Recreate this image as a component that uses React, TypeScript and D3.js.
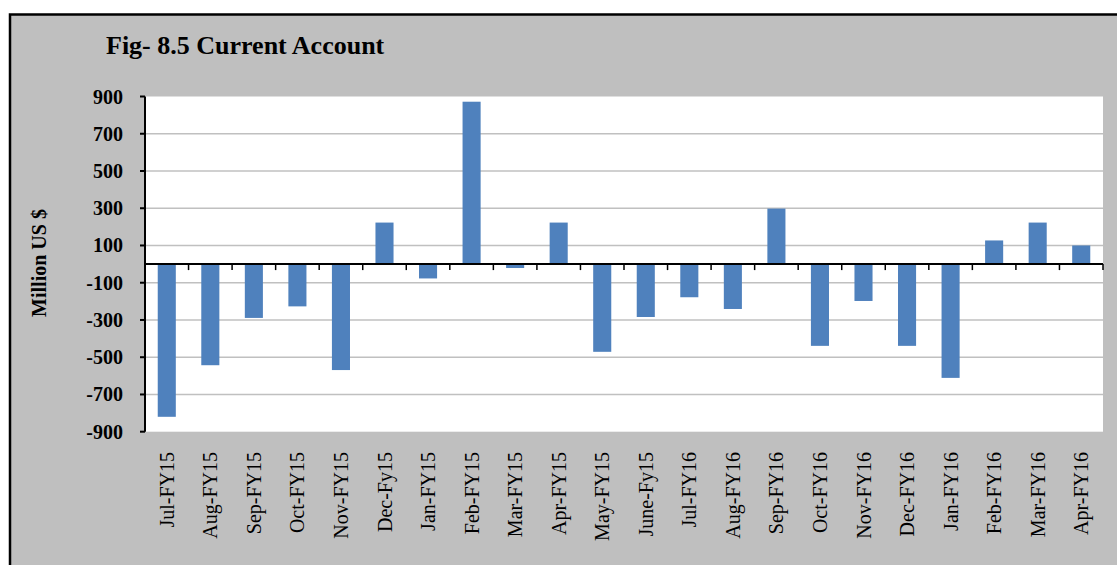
import React from "react";
import * as d3 from "d3";

const months = [
  "Jul-FY15", "Aug-FY15", "Sep-FY15", "Oct-FY15", "Nov-FY15", "Dec-Fy15",
  "Jan-FY15", "Feb-FY15", "Mar-FY15", "Apr-FY15", "May-FY15", "June-Fy15",
  "Jul-FY16", "Aug-FY16", "Sep-FY16", "Oct-FY16", "Nov-FY16", "Dec-FY16",
  "Jan-FY16", "Feb-FY16", "Mar-FY16", "Apr-FY16",
];
const currentAccount = [
  -820, -543, -289, -227, -569, 223,
  -77, 872, -21, 223, -471, -284,
  -178, -241, 298, -439, -198, -439,
  -611, 127, 223, 100,
];
const yTicks = [900, 700, 500, 300, 100, -100, -300, -500, -700, -900];

const W = 1117;
const H = 565;
const plot = { left: 145, right: 1103, top: 96.5, bottom: 431.7 };
const serif = "'Liberation Serif', 'Times New Roman', serif";

export default function App() {
  const x = d3.scaleBand<string>()
    .domain(months)
    .range([plot.left, plot.right])
    .paddingInner(0.585)
    .paddingOuter(0.2925);
  const step = x.step();

  const y = d3.scaleLinear().domain([-900, 900]).range([plot.bottom, plot.top]);
  const y0 = y(0);

  return (
    <svg
      width={W}
      height={H}
      style={{ position: "absolute", left: 0, top: 0, display: "block" }}
      fontFamily={serif}
    >
      <rect x={0} y={0} width={W} height={H} fill="white" />
      {/* chart frame, runs off the right and bottom of the picture */}
      <rect x={10} y={14.5} width={W + 20} height={H + 20} fill="#bfbfbf" stroke="#000" strokeWidth={2.5} />

      <text x={106} y={54} fontSize="26px" fontWeight="bold" fill="#000">
        Fig- 8.5 Current Account
      </text>

      <rect
        x={plot.left}
        y={plot.top}
        width={plot.right - plot.left}
        height={plot.bottom - plot.top}
        fill="white"
      />

      {/* gridlines */}
      {yTicks
        .filter(t => t !== 900 && t !== -900)
        .map(t => (
          <line
            key={`g${t}`}
            x1={plot.left}
            x2={plot.right}
            y1={y(t)}
            y2={y(t)}
            stroke="#c0c0c0"
            strokeWidth={1.5}
          />
        ))}

      {/* bars */}
      {months.map((m, i) => {
        const v = currentAccount[i];
        return (
          <rect
            key={m}
            x={x(m)}
            width={x.bandwidth()}
            y={Math.min(y(v), y0)}
            height={Math.abs(y(v) - y0)}
            fill="#4f81bd"
          />
        );
      })}

      {/* y axis */}
      <line x1={plot.left} x2={plot.left} y1={y(900)} y2={y(-900)} stroke="#000" strokeWidth={2} />
      {yTicks.map(t => (
        <g key={`t${t}`}>
          <line x1={plot.left - 5} x2={plot.left} y1={y(t)} y2={y(t)} stroke="#000" strokeWidth={2} />
          <text
            x={123}
            y={y(t)}
            dy="0.35em"
            textAnchor="end"
            fontSize="20px"
            fontWeight="bold"
            fill="#000"
          >
            {t}
          </text>
        </g>
      ))}

      {/* x axis at zero */}
      <line x1={plot.left} x2={plot.right} y1={y0} y2={y0} stroke="#000" strokeWidth={2} />
      {d3.range(months.length + 1).map(i => {
        const tx = plot.left + i * step;
        return <line key={`xt${i}`} x1={tx} x2={tx} y1={y0} y2={y0 + 6} stroke="#000" strokeWidth={1.5} />;
      })}

      {months.map(m => {
        const cx = (x(m) as number) + x.bandwidth() / 2;
        return (
          <text
            key={`l${m}`}
            transform={`translate(${cx},452) rotate(-90)`}
            dy="0.35em"
            textAnchor="end"
            fontSize="20px"
            fill="#000"
          >
            {m}
          </text>
        );
      })}

      <text
        transform={`translate(46,263) rotate(-90)`}
        textAnchor="middle"
        fontSize="20px"
        fontWeight="bold"
        fill="#000"
      >
        Million US $
      </text>
    </svg>
  );
}
